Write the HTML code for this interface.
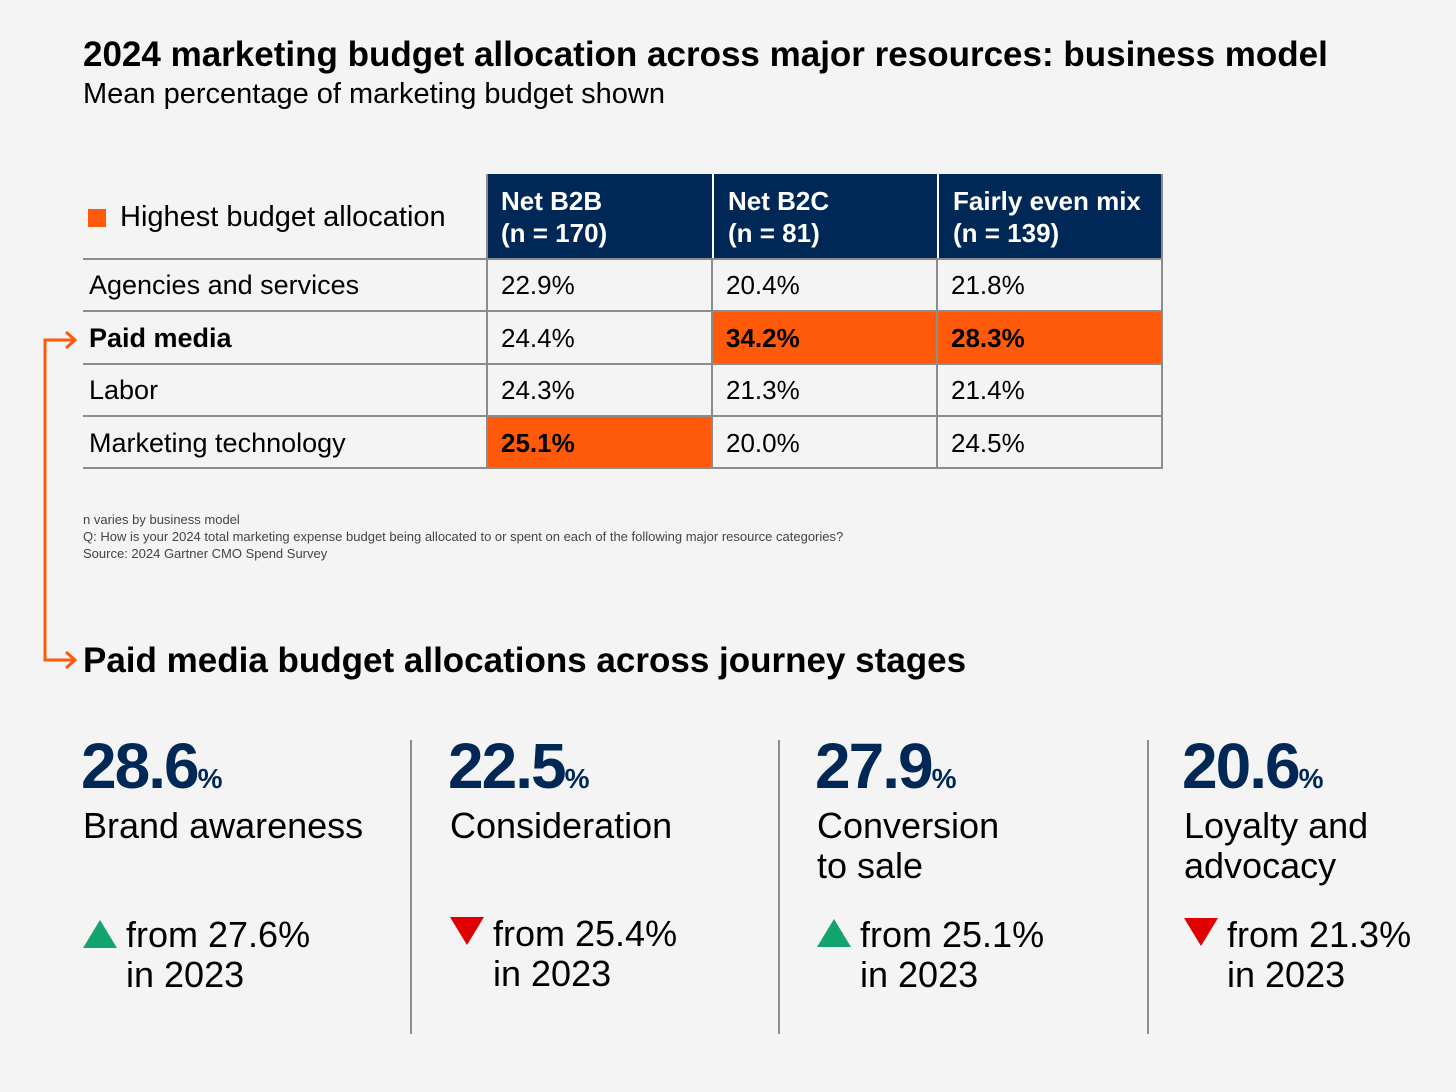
<!DOCTYPE html>
<html><head><meta charset="utf-8"><style>
body{margin:0;width:1456px;height:1092px;background:#f4f4f4;font-family:"Liberation Sans",sans-serif;color:#000;position:relative;overflow:hidden}
.a{position:absolute;white-space:nowrap}
.cell{position:absolute;box-sizing:border-box;font-size:26px;padding-left:14px;display:flex;align-items:center}
.hl{background:#ff5a0a;font-weight:bold}
.hd{background:#002856;color:#fff;font-weight:bold;font-size:26px;line-height:32px;padding-left:14px;position:absolute;box-sizing:border-box;display:flex;align-items:center}
.hline{position:absolute;left:83px;width:1080px;height:2px;background:#8c8c8c}
.vline{position:absolute;width:2px;background:#8c8c8c}
.big{font-size:64px;font-weight:bold;color:#002856;letter-spacing:-2px}
.big span{font-size:28px;letter-spacing:0}
.lab{font-size:36px;line-height:40px}
.tri{position:absolute;width:0;height:0}
.div{position:absolute;top:740px;height:294px;width:2px;background:#8c8c8c}
</style></head><body>
<div class="a" style="left:83px;top:35px;font-size:35px;font-weight:bold">2024 marketing budget allocation across major resources: business model</div>
<div class="a" style="left:83px;top:78px;font-size:29px">Mean percentage of marketing budget shown</div>

<div>
<div class="a" style="left:88px;top:209px;width:18px;height:18px;background:#ff5a0a"></div>
<div class="a" style="left:120px;top:201px;font-size:29px">Highest budget allocation</div>
</div>

<div>
<div class="hd" style="left:487px;top:174px;width:225px;height:85px">Net B2B<br>(n = 170)</div>
<div class="hd" style="left:712px;top:174px;width:225px;height:85px;border-left:2px solid #fff">Net B2C<br>(n = 81)</div>
<div class="hd" style="left:937px;top:174px;width:226px;height:85px;border-left:2px solid #fff">Fairly even mix<br>(n = 139)</div>

<div class="cell" style="left:75px;top:259px;height:52px;font-size:27px">Agencies and services</div>
<div class="cell" style="left:75px;top:312px;height:52px;font-weight:bold;font-size:27px">Paid media</div>
<div class="cell" style="left:75px;top:364px;height:52px;font-size:27px">Labor</div>
<div class="cell" style="left:75px;top:417px;height:52px;font-size:27px">Marketing technology</div>

<div class="cell" style="left:487px;top:259px;width:225px;height:52px">22.9%</div>
<div class="cell" style="left:712px;top:259px;width:225px;height:52px">20.4%</div>
<div class="cell" style="left:937px;top:259px;width:225px;height:52px">21.8%</div>
<div class="cell" style="left:487px;top:312px;width:225px;height:52px">24.4%</div>
<div class="cell hl" style="left:712px;top:312px;width:225px;height:52px">34.2%</div>
<div class="cell hl" style="left:937px;top:312px;width:225px;height:52px">28.3%</div>
<div class="cell" style="left:487px;top:364px;width:225px;height:52px">24.3%</div>
<div class="cell" style="left:712px;top:364px;width:225px;height:52px">21.3%</div>
<div class="cell" style="left:937px;top:364px;width:225px;height:52px">21.4%</div>
<div class="cell hl" style="left:487px;top:417px;width:225px;height:52px">25.1%</div>
<div class="cell" style="left:712px;top:417px;width:225px;height:52px">20.0%</div>
<div class="cell" style="left:937px;top:417px;width:225px;height:52px">24.5%</div>

<div class="hline" style="top:258px"></div>
<div class="hline" style="top:310px"></div>
<div class="hline" style="top:363px"></div>
<div class="hline" style="top:415px"></div>
<div class="hline" style="top:467px"></div>
<div class="vline" style="left:486px;top:174px;height:295px"></div>
<div class="vline" style="left:711px;top:258px;height:211px"></div>
<div class="vline" style="left:936px;top:258px;height:211px"></div>
<div class="vline" style="left:1161px;top:174px;height:295px"></div>
</div>

<div class="a" style="left:83px;top:511px;font-size:13px;line-height:17px;color:#444">n varies by business model<br>Q: How is your 2024 total marketing expense budget being allocated to or spent on each of the following major resource categories?<br>Source: 2024 Gartner CMO Spend Survey</div>

<svg class="a" style="left:0;top:0" width="90" height="700">
<path d="M74 340 H45 V660 H74" fill="none" stroke="#ff5a0a" stroke-width="3"/>
<path d="M66 332 L75 340 L66 348" fill="none" stroke="#ff5a0a" stroke-width="3"/>
<path d="M66 652 L75 660 L66 668" fill="none" stroke="#ff5a0a" stroke-width="3"/>
</svg>

<div class="a" style="left:83px;top:641px;font-size:35px;font-weight:bold">Paid media budget allocations across journey stages</div>

<div class="div" style="left:410px"></div>
<div class="div" style="left:778px"></div>
<div class="div" style="left:1147px"></div>

<div>
<div class="a big" style="left:81px;top:729px">28.6<span>%</span></div>
<div class="a lab" style="left:83px;top:806px">Brand awareness</div>
<div class="tri" style="left:83px;top:920px;border-left:17px solid transparent;border-right:17px solid transparent;border-bottom:28px solid #13a36c"></div>
<div class="a lab" style="left:126px;top:915px">from 27.6%<br>in 2023</div>
</div>
<div>
<div class="a big" style="left:448px;top:729px">22.5<span>%</span></div>
<div class="a lab" style="left:450px;top:806px">Consideration</div>
<div class="tri" style="left:450px;top:917px;border-left:17px solid transparent;border-right:17px solid transparent;border-top:28px solid #e00000"></div>
<div class="a lab" style="left:493px;top:914px">from 25.4%<br>in 2023</div>
</div>
<div>
<div class="a big" style="left:815px;top:729px">27.9<span>%</span></div>
<div class="a lab" style="left:817px;top:806px">Conversion<br>to sale</div>
<div class="tri" style="left:817px;top:919px;border-left:17px solid transparent;border-right:17px solid transparent;border-bottom:28px solid #13a36c"></div>
<div class="a lab" style="left:860px;top:915px">from 25.1%<br>in 2023</div>
</div>
<div>
<div class="a big" style="left:1182px;top:729px">20.6<span>%</span></div>
<div class="a lab" style="left:1184px;top:806px">Loyalty and<br>advocacy</div>
<div class="tri" style="left:1184px;top:918px;border-left:17px solid transparent;border-right:17px solid transparent;border-top:28px solid #e00000"></div>
<div class="a lab" style="left:1227px;top:915px">from 21.3%<br>in 2023</div>
</div>
</body></html>
